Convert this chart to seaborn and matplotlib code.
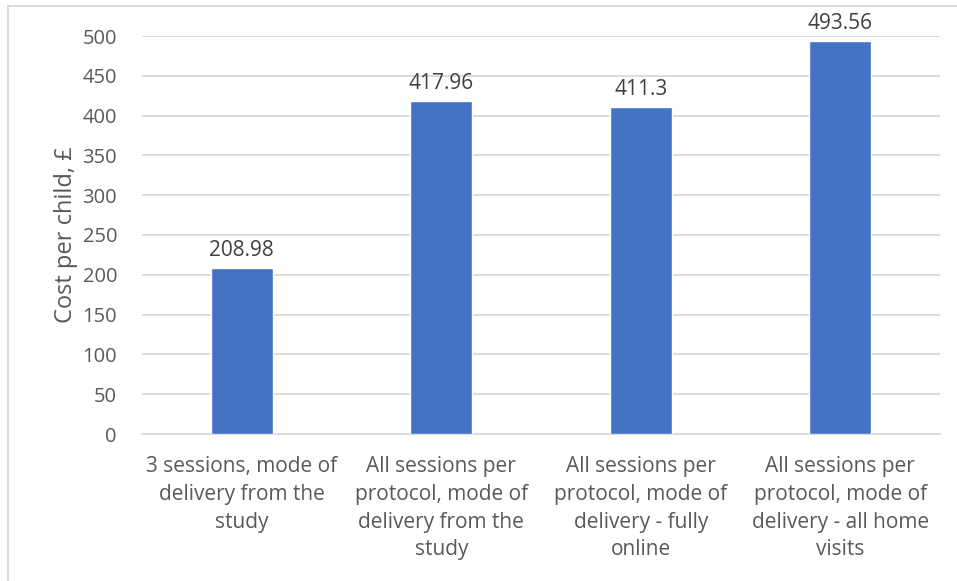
import matplotlib
matplotlib.use("Agg")
import matplotlib.pyplot as plt
import seaborn as sns
import pandas as pd
from matplotlib.patches import Rectangle

categories = [
    "3 sessions, mode of\ndelivery from the\nstudy",
    "All sessions per\nprotocol, mode of\ndelivery from the\nstudy",
    "All sessions per\nprotocol, mode of\ndelivery - fully\nonline",
    "All sessions per\nprotocol, mode of\ndelivery - all home\nvisits",
]
values = [208.98, 417.96, 411.3, 493.56]
labels = ["208.98", "417.96", "411.3", "493.56"]
yticks = [0, 50, 100, 150, 200, 250, 300, 350, 400, 450, 500]

sns.set_theme(style="white")
plt.rcParams['font.family'] = ['Open Sans', 'DejaVu Sans']
txt = "#595959"

df = pd.DataFrame({"cat": categories, "val": values})
fig = plt.figure(figsize=(9.57, 5.81), dpi=100)
ax = fig.add_axes([142/957, 1-434/581, (940-142)/957, (434-36)/581])
sns.barplot(data=df, x="cat", y="val", color="#4472C4", width=0.31,
            saturation=1, ax=ax, zorder=3)
ax.set_ylim(0, 500)
ax.set_yticks(yticks)
ax.set_yticklabels([str(v) for v in yticks], fontsize=14.5, color=txt)
ax.tick_params(axis='x', labelsize=15, colors=txt, pad=16, length=0)
ax.tick_params(axis='y', length=0, pad=18)
for t in ax.get_xticklabels():
    t.set_linespacing(1.42)
ax.yaxis.grid(True, color="#D9D9D9", linewidth=1.3, zorder=0)
for s in ["top", "right", "left"]:
    ax.spines[s].set_visible(False)
ax.spines["bottom"].set_color("#D9D9D9")
ax.spines["bottom"].set_linewidth(1.3)
ax.set_xlabel("")
ax.set_ylabel("Cost per child, £", fontsize=17, color=txt, labelpad=3)
for i, (v, l) in enumerate(zip(values, labels)):
    ax.annotate(l, (i, v), xytext=(0, 5), textcoords="offset points",
                ha="center", va="bottom", fontsize=15, color="#404040",
                annotation_clip=False)
fig.patches.append(Rectangle((8/957, -0.05), 1.1, 1-6/581+0.05,
                             transform=fig.transFigure, fill=False,
                             edgecolor="#D9D9D9", linewidth=1.3))
fig.savefig("out.png", dpi=100)
